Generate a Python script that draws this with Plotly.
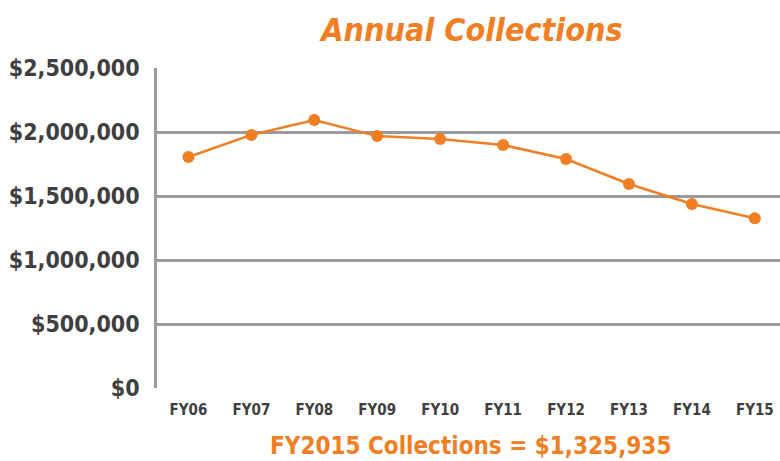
import plotly.graph_objects as go

categories = ["FY06", "FY07", "FY08", "FY09", "FY10", "FY11", "FY12", "FY13", "FY14", "FY15"]
collections = [1805000, 1977000, 2093000, 1968000, 1946000, 1898000, 1789000, 1594000, 1437000, 1325935]
y_ticks = [0, 500000, 1000000, 1500000, 2000000, 2500000]
y_tick_labels = ["$0", "$500,000", "$1,000,000", "$1,500,000", "$2,000,000", "$2,500,000"]

ORANGE = "#F07E23"
GRID = "#9A9A9C"
TXT = "#3F3F41"
FONT = "DejaVu Sans Condensed, Liberation Sans Narrow, Arial Narrow, sans-serif"

fig = go.Figure()
fig.add_trace(go.Scatter(
    x=list(range(len(categories))), y=collections, mode="lines+markers",
    line=dict(color=ORANGE, width=2.5),
    marker=dict(color=ORANGE, size=12),
    hoverinfo="skip", showlegend=False,
))

fig.update_layout(
    width=780, height=461,
    margin=dict(l=157, r=0, t=68, b=73),
    paper_bgcolor="white", plot_bgcolor="white",
    font=dict(family=FONT, color=TXT),
    title=dict(text="<b><i>Annual Collections</i></b>", x=0.605, xanchor="center",
               y=0.935, yanchor="middle",
               font=dict(size=32, color=ORANGE, family=FONT)),
    xaxis=dict(
        range=[-0.5, 9.4], tickmode="array", automargin=False,
        tickvals=list(range(len(categories))), ticktext=["<b>%s</b>" % c for c in categories],
        tickfont=dict(size=15, color=TXT, family=FONT),
        showgrid=False, zeroline=False, showline=False,
        ticks="outside", ticklen=8, tickcolor="rgba(0,0,0,0)",
    ),
    yaxis=dict(
        range=[0, 2500000], tickmode="array", tickvals=y_ticks, automargin=False,
        ticktext=["<b>%s</b>" % t for t in y_tick_labels],
        tickfont=dict(size=23, color=TXT, family=FONT),
        showgrid=True, gridcolor=GRID, gridwidth=2.5,
        zeroline=False, showline=True, linecolor=GRID, linewidth=2.5,
        ticks="outside", ticklen=10, tickcolor="rgba(0,0,0,0)",
    ),
)

fig.add_annotation(
    text="<b>FY2015 Collections = $1,325,935</b>",
    xref="paper", yref="paper", x=0.503, y=-0.18, xanchor="center", yanchor="middle",
    showarrow=False, font=dict(size=24, color=ORANGE, family=FONT),
)

fig.write_html("out.html", config={"displayModeBar": False},
               post_script="document.body.style.margin='0';document.body.style.padding='0';")
